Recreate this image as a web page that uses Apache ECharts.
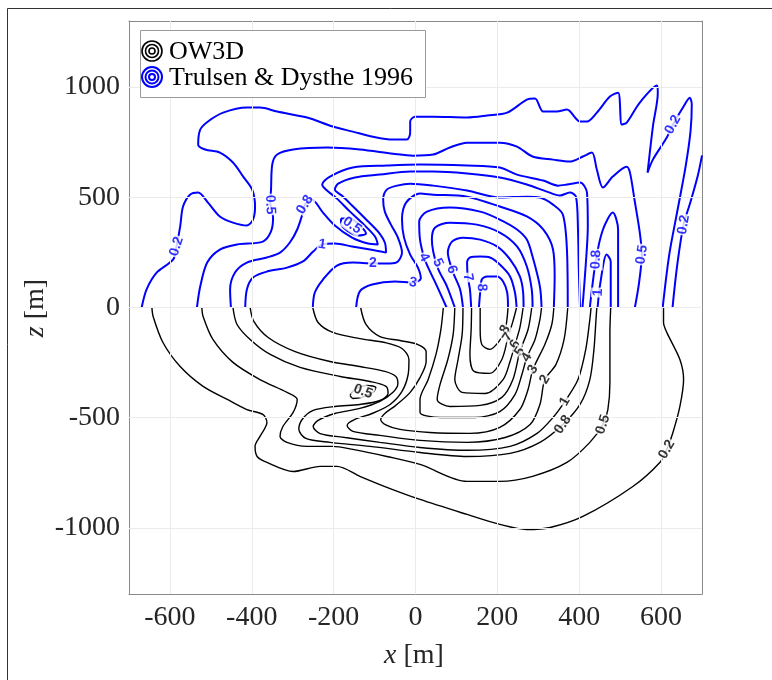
<!DOCTYPE html>
<html><head><meta charset="utf-8">
<script src="https://cdn.jsdelivr.net/npm/echarts@6/dist/echarts.min.js"></script>
<style>html,body{margin:0;padding:0;background:#fff}#c{width:772px;height:680px}</style>
</head><body><div id="c"></div>
<script>
// ---- axis ticks ----
const xTicks = [-600,-400,-200,0,200,400,600];
const yTicks = [-1000,-500,0,500,1000];

// ---- Trulsen & Dysthe 1996 (blue, z > 0) contour lines, [x, z] in metres ----
const td_02a = [[-669,0],[-657,82],[-632,159],[-592,218],[-584,277],[-575,367],[-568,458],[-551,512],[-531,522],[-507,476],[-478,413],[-446,385],[-412,372],[-397,399],[-392,458],[-399,535],[-421,594],[-446,658],[-478,703],[-514,717],[-531,739],[-526,807],[-507,844],[-470,884],[-412,907],[-380,907],[-338,889],[-265,862],[-202,821],[-153,798],[-104,775],[-55,762],[-21,762],[-13,794],[-13,844],[-1,866],[43,866],[126,862],[175,871],[224,884],[272,943],[292,948],[312,889],[345,889],[370,898],[402,844],[419,844],[443,884],[475,957],[495,975],[504,830],[516,839],[548,930],[590,1007],[592,975],[580,821],[567,612],[580,671],[614,771],[629,830],[655,912],[670,952],[675,921],[672,800],[660,640],[640,440],[620,240],[604,0]];
const td_02b = [[700,690],[690,600],[672,480],[655,376],[640,200],[628,0]];
const td_05 = [[-534,0],[-526,95],[-509,204],[-478,263],[-436,286],[-373,299],[-353,345],[-348,408],[-355,476],[-353,535],[-350,649],[-338,694],[-299,717],[-216,726],[-136,717],[-55,698],[-6,689],[43,694],[84,726],[126,748],[206,748],[248,730],[286,685],[336,671],[377,662],[409,685],[431,703],[443,626],[458,544],[482,594],[516,639],[524,612],[535,490],[548,340],[553,240],[546,110],[536,0]];
const td_08 = [[-451,0],[-453,82],[-441,159],[-412,204],[-363,227],[-331,249],[-307,295],[-289,354],[-275,431],[-270,467],[-253,490],[-228,435],[-197,372],[-155,317],[-116,290],[-92,286],[-99,322],[-126,376],[-160,435],[-192,494],[-219,535],[-228,558],[-209,594],[-153,635],[-70,644],[11,649],[126,644],[206,635],[248,603],[312,576],[348,553],[370,558],[402,567],[419,522],[421,367],[416,195],[408,0]];
const td_1 = [[-416,0],[-412,82],[-397,136],[-363,163],[-314,181],[-275,209],[-250,254],[-228,286],[-197,290],[-155,277],[-111,263],[-72,249],[-75,295],[-92,345],[-123,404],[-155,463],[-180,508],[-197,535],[-189,562],[-148,590],[-87,603],[-13,617],[43,617],[126,608],[206,590],[272,558],[321,526],[353,508],[377,522],[392,503],[397,354],[399,172],[402,0]];
const td_2 = [[-251,0],[-246,68],[-226,127],[-192,190],[-153,204],[-104,200],[-62,200],[-43,209],[-33,249],[-43,317],[-60,376],[-75,435],[-79,490],[-70,535],[-45,553],[-13,562],[43,553],[126,531],[206,499],[272,503],[304,499],[336,467],[360,422],[370,263],[372,0]];
const td_3 = [[-145,0],[-136,73],[-106,104],[-50,118],[-6,113],[13,132],[6,181],[-13,240],[-28,317],[-33,399],[-23,476],[11,517],[43,512],[126,503],[206,458],[272,413],[312,354],[336,263],[340,141],[338,0]];
const td_4 = [[76,0],[53,95],[31,181],[21,227],[11,308],[9,390],[28,435],[84,454],[158,435],[206,399],[248,354],[272,308],[286,231],[304,95],[308,0]];
const td_5 = [[96,0],[77,95],[53,186],[40,308],[48,363],[84,385],[150,376],[206,340],[248,277],[272,186],[284,82],[286,0]];
const td_6 = [[116,0],[109,82],[92,159],[79,249],[89,299],[116,317],[158,308],[199,277],[231,218],[255,141],[263,68],[264,0]];
const td_7 = [[136,0],[133,82],[128,136],[126,204],[133,227],[158,231],[182,227],[206,195],[231,141],[243,68],[247,0]];
const td_8 = [[155,0],[158,68],[162,127],[175,141],[199,141],[214,118],[224,68],[226,0]];
const td_t08 = [[426,0],[441,218],[458,354],[482,431],[495,354],[495,172],[495,0]];
const td_t1 = [[445,0],[451,104],[467,240],[477,209],[477,0]];
const td_loop05 = [[-182,404],[-160,404],[-136,372],[-121,336],[-140,327],[-167,349],[-182,381],[-182,404]];

// ---- OW3D (black, z < 0) contour lines ----
const ow_02 = [[-644,0],[-641,-41],[-617,-159],[-575,-268],[-519,-358],[-460,-417],[-412,-463],[-373,-485],[-363,-522],[-380,-585],[-392,-630],[-387,-676],[-363,-703],[-299,-744],[-233,-721],[-192,-721],[-136,-766],[-70,-816],[11,-871],[126,-939],[206,-984],[272,-1007],[329,-998],[409,-948],[531,-812],[597,-703],[614,-644],[629,-567],[646,-449],[655,-327],[646,-236],[614,-113],[606,-68],[606,0]];
const ow_05 = [[-522,0],[-519,-41],[-495,-145],[-446,-249],[-380,-327],[-314,-385],[-289,-417],[-299,-476],[-324,-540],[-331,-585],[-314,-612],[-265,-630],[-202,-630],[-153,-644],[-70,-676],[11,-712],[126,-789],[206,-789],[286,-766],[370,-703],[426,-612],[458,-531],[470,-463],[475,-340],[475,-113],[477,0]];
const ow_08 = [[-446,0],[-436,-77],[-404,-145],[-355,-213],[-282,-272],[-184,-313],[-111,-336],[-72,-358],[-67,-390],[-87,-422],[-136,-440],[-197,-449],[-250,-467],[-277,-508],[-285,-553],[-268,-594],[-209,-612],[-111,-630],[11,-658],[126,-676],[231,-662],[304,-612],[360,-531],[402,-440],[426,-327],[436,-190],[441,-54],[443,0]];
const ow_1 = [[-404,0],[-395,-63],[-360,-136],[-294,-200],[-209,-245],[-136,-268],[-75,-290],[-48,-313],[-43,-345],[-55,-385],[-87,-426],[-136,-458],[-197,-481],[-238,-512],[-250,-540],[-233,-572],[-172,-590],[-87,-612],[11,-635],[126,-648],[231,-630],[297,-571],[336,-499],[365,-426],[397,-327],[416,-190],[426,-54],[429,0]];
const ow_2 = [[-251,0],[-238,-68],[-202,-113],[-136,-141],[-75,-159],[-33,-186],[-16,-236],[-18,-304],[-33,-381],[-62,-440],[-106,-481],[-148,-508],[-167,-535],[-153,-562],[-87,-580],[11,-603],[126,-612],[219,-590],[280,-531],[304,-440],[316,-327],[343,-259],[363,-145],[372,0]];
const ow_3 = [[-134,0],[-121,-77],[-87,-132],[-38,-150],[6,-168],[26,-200],[26,-245],[11,-318],[-13,-385],[-48,-444],[-75,-481],[-85,-508],[-70,-535],[-38,-553],[35,-567],[133,-571],[206,-544],[255,-463],[275,-372],[287,-281],[316,-168],[333,-77],[338,0]];
const ow_4 = [[68,0],[62,-100],[50,-213],[31,-327],[11,-417],[11,-476],[60,-499],[145,-499],[206,-472],[243,-395],[260,-304],[272,-227],[292,-145],[304,-54],[308,0]];
const ow_5 = [[96,0],[92,-122],[79,-236],[60,-349],[53,-417],[84,-449],[158,-444],[211,-408],[238,-327],[255,-200],[275,-100],[284,0]];
const ow_6 = [[116,0],[114,-122],[104,-236],[96,-327],[114,-385],[170,-390],[214,-327],[231,-245],[243,-168],[255,-91],[263,0]];
const ow_7 = [[137,0],[136,-100],[133,-213],[143,-290],[182,-299],[211,-236],[226,-136],[238,-63],[247,0]];
const ow_8 = [[158,0],[158,-100],[162,-168],[182,-190],[204,-154],[219,-100],[224,-45],[226,0]];
const ow_loop05 = [[-160,-399],[-145,-367],[-118,-354],[-97,-363],[-104,-385],[-131,-408],[-153,-413],[-160,-399]];

// ---- inline contour labels [x, z, text] ----
const tdLabels = [[-584,277,'0.2'],[-355,467,'0.5'],[-270,467,'0.8'],[-228,286,'1'],[-104,200,'2'],[-6,113,'3'],[21,227,'4'],[55,204,'5'],[89,172,'6'],[128,136,'7'],[162,91,'8'],[441,218,'0.8'],[446,68,'1'],[553,240,'0.5'],[629,830,'0.2'],[655,376,'0.2'],[-155,372,'0.5']];
const tdLabelAngles = [72,-88,58,-8,0,-10,-62,-65,-72,-80,-88,88,88,82,62,80,-35];
const owLabels = [[-128,-381,'0.5'],[219,-100,'8'],[226,-136,'7'],[243,-168,'6'],[255,-200,'5'],[272,-227,'4'],[287,-281,'3'],[316,-327,'2'],[365,-426,'1'],[360,-531,'0.8'],[458,-531,'0.5'],[614,-644,'0.2']];
const owLabelAngles = [-20,58,58,58,58,58,60,60,60,55,72,60];

const BLUE = '#0000ff', BLACK = '#000000';
const serif = 'Liberation Serif, Times New Roman, serif';

function contour(data, color, width) {
  return { type:'line', data:data, showSymbol:false, symbol:'none', smooth:0.3,
    lineStyle:{color:color, width:width}, silent:true, z:3, animation:false, clip:true };
}
function labelSeries(list, angles, color) {
  return { type:'scatter', symbolSize:0, silent:true, z:5, animation:false,
    data: list.map((d,i)=>({value:[d[0],d[1]], name:d[2],
      label:{show:true, position:'inside', formatter:d[2], rotate:angles[i],
        color:color, fontFamily:'Liberation Sans, Arial, sans-serif', fontSize:14, fontWeight:'bold',
        backgroundColor:'#fff', padding:[0,1,0,1]}})) };
}

const blueLines = [td_02a, td_02b, td_05, td_08, td_1, td_2, td_3, td_4, td_5, td_6, td_7, td_8, td_t08, td_t1, td_loop05];
const blackLines = [ow_02, ow_05, ow_08, ow_1, ow_2, ow_3, ow_4, ow_5, ow_6, ow_7, ow_8, ow_loop05];

const series = [];
series.push({ type:'line', data:[], silent:true, z:1, animation:false,
  markLine:{ silent:true, symbol:'none', animation:false, label:{show:false},
    lineStyle:{color:'#ebebeb', width:1, type:'solid'},
    data: xTicks.map(v=>({xAxis:v})).concat(yTicks.map(v=>({yAxis:v}))) } });
blueLines.forEach(d=>series.push(contour(d, BLUE, 2)));
blackLines.forEach(d=>series.push(contour(d, BLACK, 1.4)));
series.push(labelSeries(tdLabels, tdLabelAngles, BLUE));
series.push(labelSeries(owLabels, owLabelAngles, BLACK));

const axisCommon = { axisLine:{show:true, onZero:false, lineStyle:{color:'#8a8a8a', width:1}},
  splitLine:{show:false} };
const plain = v => String(v);

const chart = echarts.init(document.getElementById('c'), null, {renderer:'canvas'});
chart.setOption({
  animation:false,
  backgroundColor:'#fff',
  grid:{left:129, right:70, top:21, bottom:86, containLabel:false},
  xAxis:[
    Object.assign({type:'value', min:-700, max:700, interval:100, position:'bottom',
      axisTick:{show:true, inside:true, length:5, customValues:xTicks, lineStyle:{color:'#8a8a8a'}},
      axisLabel:{customValues:xTicks, formatter:plain, fontFamily:serif, fontSize:28, color:'#262626', margin:10}}, axisCommon),
    Object.assign({type:'value', min:-700, max:700, interval:100, position:'top',
      axisTick:{show:true, inside:true, length:5, customValues:xTicks, lineStyle:{color:'#8a8a8a'}},
      axisLabel:{show:false}}, axisCommon)
  ],
  yAxis:[
    Object.assign({type:'value', min:-1300, max:1300, interval:100, position:'left',
      axisTick:{show:true, inside:true, length:5, customValues:yTicks, lineStyle:{color:'#8a8a8a'}},
      axisLabel:{customValues:yTicks, formatter:plain, fontFamily:serif, fontSize:28, color:'#262626', margin:9}}, axisCommon),
    Object.assign({type:'value', min:-1300, max:1300, interval:100, position:'right',
      axisTick:{show:true, inside:true, length:5, customValues:yTicks, lineStyle:{color:'#8a8a8a'}},
      axisLabel:{show:false}}, axisCommon)
  ],
  series: series,
  graphic:[
    {type:'rect', silent:true, shape:{x:7.5, y:8.5, width:800, height:700}, style:{fill:null, stroke:'#333', lineWidth:1}},
    {type:'text', silent:true, x:414, y:656, style:{text:'{i|x} [m]', rich:{i:{fontStyle:'italic', fontFamily:serif, fontSize:28, fill:'#262626'}}, font:'28px '+serif, fill:'#262626', align:'center', verticalAlign:'middle'}},
    {type:'text', silent:true, x:36, y:308, rotation:Math.PI/2, style:{text:'{i|z} [m]', rich:{i:{fontStyle:'italic', fontFamily:serif, fontSize:28, fill:'#262626'}}, font:'28px '+serif, fill:'#262626', align:'center', verticalAlign:'middle'}},
    {type:'rect', silent:true, z:10, shape:{x:140.5, y:30.5, width:285, height:67}, style:{fill:'#fff', stroke:'#9a9a9a', lineWidth:1}},
    {type:'circle', silent:true, z:11, shape:{cx:152, cy:51, r:10}, style:{fill:null, stroke:BLACK, lineWidth:1.6}},
    {type:'circle', silent:true, z:11, shape:{cx:152, cy:51, r:6.5}, style:{fill:null, stroke:BLACK, lineWidth:1.6}},
    {type:'circle', silent:true, z:11, shape:{cx:152, cy:51, r:3}, style:{fill:null, stroke:BLACK, lineWidth:1.6}},
    {type:'circle', silent:true, z:11, shape:{cx:152, cy:77, r:10}, style:{fill:null, stroke:BLUE, lineWidth:2}},
    {type:'circle', silent:true, z:11, shape:{cx:152, cy:77, r:6.5}, style:{fill:null, stroke:BLUE, lineWidth:2}},
    {type:'circle', silent:true, z:11, shape:{cx:152, cy:77, r:3}, style:{fill:null, stroke:BLUE, lineWidth:2}},
    {type:'text', silent:true, z:11, x:169, y:52, style:{text:'OW3D', font:'26px '+serif, fill:'#000', verticalAlign:'middle'}},
    {type:'text', silent:true, z:11, x:169, y:78, style:{text:'Trulsen & Dysthe 1996', font:'26px '+serif, fill:'#000', verticalAlign:'middle'}}
  ]
});
</script></body></html>
